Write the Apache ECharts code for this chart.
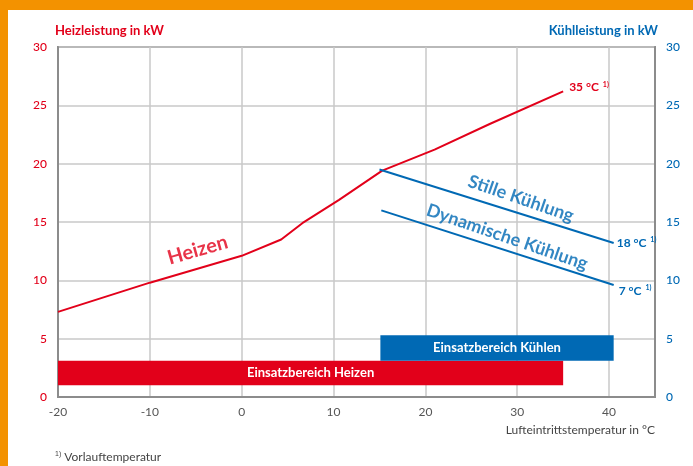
<!DOCTYPE html>
<html lang="de">
<head>
    <meta charset="UTF-8">
    <title>Heiz- und Kühlleistung</title>
    <style>
        html, body { margin: 0; padding: 0; background: #fff; }
        #main { width: 693px; height: 466px; }
    </style>
</head>
<body>
<div id="main"></div>
<script src="https://cdn.jsdelivr.net/npm/echarts@6/dist/echarts.min.js"></script>
<script>
    // Heizleistung (35 °C Vorlauf) über Lufteintrittstemperatur
    const heizTemp = [-20, -10, 0, 4.3, 6.6, 10.6, 15.3, 21, 27, 35];
    const heizKW = [7.3, 9.8, 12.1, 13.5, 14.9, 16.9, 19.4, 21.2, 23.4, 26.2];
    // Kühlleistung
    const stilleTemp = [15, 40.5];
    const stilleKW = [19.5, 13.2];
    const dynTemp = [15.2, 40.5];
    const dynKW = [16.0, 9.6];
    // Einsatzbereiche: [von °C, bis °C, unten kW, oben kW]
    const bereichHeizen = [-20, 35, 1.0, 3.1];
    const bereichKuehlen = [15.1, 40.5, 3.1, 5.3];
    // Beschriftungen an Datenpunkten
    const annoText = ['Heizen', 'Stille Kühlung', 'Dynamische Kühlung'];
    const annoPos = [[-4.8, 12.6], [30.4, 17.0], [28.9, 13.7]];
    const xTicks = [-20, -10, 0, 10, 20, 30, 40];

    const RED = '#e2001a';
    const BLUE = '#0069b4';
    const FONT = 'Lato, "Open Sans", sans-serif';

    const myChart = echarts.init(document.getElementById('main'));

    const zip = (a, b) => a.map((v, i) => [v, b[i]]);
    const sup = { sup: { fontSize: 7, padding: [0, 0, 6, 1] } };

    myChart.setOption({
        animation: false,
        textStyle: { fontFamily: FONT },
        grid: { left: 58, right: 38, top: 47, bottom: 69, show: true, borderColor: '#8c8c8c', borderWidth: 2 },
        xAxis: {
            type: 'value', min: -20, max: 45, interval: 10,
            axisLine: { show: true, onZero: false, lineStyle: { color: '#8c8c8c', width: 2 } },
            axisTick: { show: false },
            splitLine: { lineStyle: { color: '#c8c8c8', width: 1.5 } },
            axisLabel: {
                color: '#555', fontSize: 12, margin: 9,
                formatter: v => xTicks.includes(v) ? String(v) : ''
            }
        },
        yAxis: [{
            type: 'value', min: 0, max: 30, interval: 5, position: 'left',
            name: 'Heizleistung in kW', nameLocation: 'end', nameGap: 10,
            nameTextStyle: { color: RED, fontWeight: 'bold', fontSize: 13, align: 'left', padding: [0, 0, 0, -3] },
            axisLine: { show: true, onZero: false, lineStyle: { color: '#8c8c8c', width: 2 } },
            axisTick: { show: false },
            splitLine: { lineStyle: { color: '#c8c8c8', width: 1.5 } },
            axisLabel: { color: RED, fontSize: 12, fontWeight: 500, margin: 11 }
        }, {
            type: 'value', min: 0, max: 30, interval: 5, position: 'right',
            name: 'Kühlleistung in kW', nameLocation: 'end', nameGap: 10,
            nameTextStyle: { color: BLUE, fontWeight: 'bold', fontSize: 13, align: 'right', padding: [0, -3, 0, 0] },
            axisLine: { show: true, onZero: false, lineStyle: { color: '#8c8c8c', width: 2 } },
            axisTick: { show: false },
            splitLine: { show: false },
            axisLabel: { color: BLUE, fontSize: 12, fontWeight: 500, margin: 11 }
        }],
        series: [{
            type: 'custom',
            renderItem: (params, api) => {
                const p0 = api.coord([api.value(0), api.value(3)]);
                const p1 = api.coord([api.value(1), api.value(2)]);
                return {
                    type: 'rect',
                    shape: { x: p0[0], y: p0[1], width: p1[0] - p0[0], height: p1[1] - p0[1] },
                    style: { fill: api.value(5) === 0 ? RED : BLUE },
                    textContent: {
                        style: {
                            text: params.dataIndex === 0 ? 'Einsatzbereich Heizen' : 'Einsatzbereich Kühlen',
                            fill: '#fff', font: 'bold 13px ' + FONT
                        }
                    },
                    textConfig: { position: 'inside' }
                };
            },
            data: [bereichHeizen.concat(['', 0]), bereichKuehlen.concat(['', 1])],
            z: 3
        }, {
            type: 'line', data: zip(heizTemp, heizKW), symbol: 'none',
            lineStyle: { color: RED, width: 2 },
            endLabel: {
                show: true, color: RED, fontSize: 12, fontWeight: 'bold', distance: 6, offset: [0, -4],
                formatter: '35 °C {sup|1)}', rich: sup
            }
        }, {
            type: 'line', yAxisIndex: 1, data: zip(stilleTemp, stilleKW), symbol: 'none',
            lineStyle: { color: BLUE, width: 2 },
            endLabel: {
                show: true, color: BLUE, fontSize: 12, fontWeight: 'bold', distance: 3,
                formatter: '18 °C {sup|1)}', rich: sup
            }
        }, {
            type: 'line', yAxisIndex: 1, data: zip(dynTemp, dynKW), symbol: 'none',
            lineStyle: { color: BLUE, width: 2 },
            endLabel: {
                show: true, color: BLUE, fontSize: 12, fontWeight: 'bold', distance: 5, offset: [0, 6],
                formatter: '7 °C {sup|1)}', rich: sup
            }
        }, {
            type: 'scatter', symbolSize: 0, silent: true,
            data: annoPos.map((p, i) => ({
                value: p,
                label: {
                    show: true, position: 'inside',
                    formatter: annoText[i],
                    rotate: i === 0 ? 16 : -19,
                    color: i === 0 ? RED : BLUE,
                    fontSize: i === 0 ? 20 : 18,
                    fontWeight: 'bold'
                }
            }))
        }],
        graphic: [
            { type: 'rect', left: 0, top: 0, shape: { width: 693, height: 10 }, style: { fill: '#f39200' } },
            { type: 'rect', left: 0, top: 0, shape: { width: 8, height: 466 }, style: { fill: '#f39200' } },
            {
                type: 'text', right: 38, top: 424,
                style: { text: 'Lufteintrittstemperatur in °C', fill: '#444', font: '12px ' + FONT }
            },
            {
                type: 'text', left: 55, top: 451,
                style: {
                    text: '{sup|1)} Vorlauftemperatur', fill: '#444', font: '12px ' + FONT,
                    rich: { sup: { fontSize: 7, padding: [0, 0, 6, 0] } }
                }
            }
        ]
    });
</script>
</body>
</html>
